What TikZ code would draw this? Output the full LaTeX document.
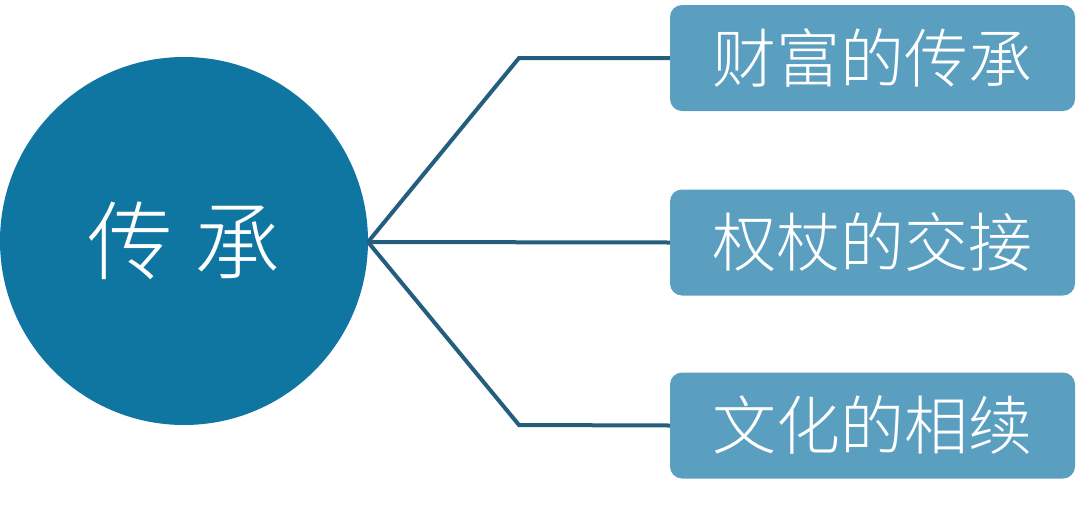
\documentclass[tikz,border=0pt]{standalone}
\usepackage{fontspec}
\newfontfamily\cjk{Noto Sans CJK SC Light}
\definecolor{circblue}{HTML}{0F76A1}
\definecolor{boxblue}{HTML}{5A9FC0}
\definecolor{linkblue}{HTML}{245E7E}
\begin{document}
\begin{tikzpicture}[x=1pt,y=-1pt,
  hub/.style={circle,fill=circblue,minimum size=368pt,inner sep=0pt,text=white,font=\cjk\fontsize{86}{94}\selectfont},
  leaf/.style={rectangle,rounded corners=12pt,fill=boxblue,minimum width=405pt,minimum height=106pt,inner sep=0pt,text=white,font=\cjk\fontsize{64}{72}\selectfont},
  link/.style={draw=linkblue,line width=4pt,line join=miter}]
\useasboundingbox (0,0) rectangle (1080,504);
\node[hub] (c) at (184,241) {传\hspace{22pt}承};
\node[leaf] (a) at (872.5,58) {财富的传承};
\node[leaf] (b) at (872.5,242.5) {权杖的交接};
\node[leaf] (d) at (872.5,425.5) {文化的相续};
\coordinate (p) at (368,242);
\coordinate (ka) at (519,58);
\coordinate (kd) at (519,425);
\draw[link] (p) -- (ka) -- (a.west);
\draw[link] (p) -- (b.west);
\draw[link] (p) -- (kd) -- (d.west);
\end{tikzpicture}
\end{document}
